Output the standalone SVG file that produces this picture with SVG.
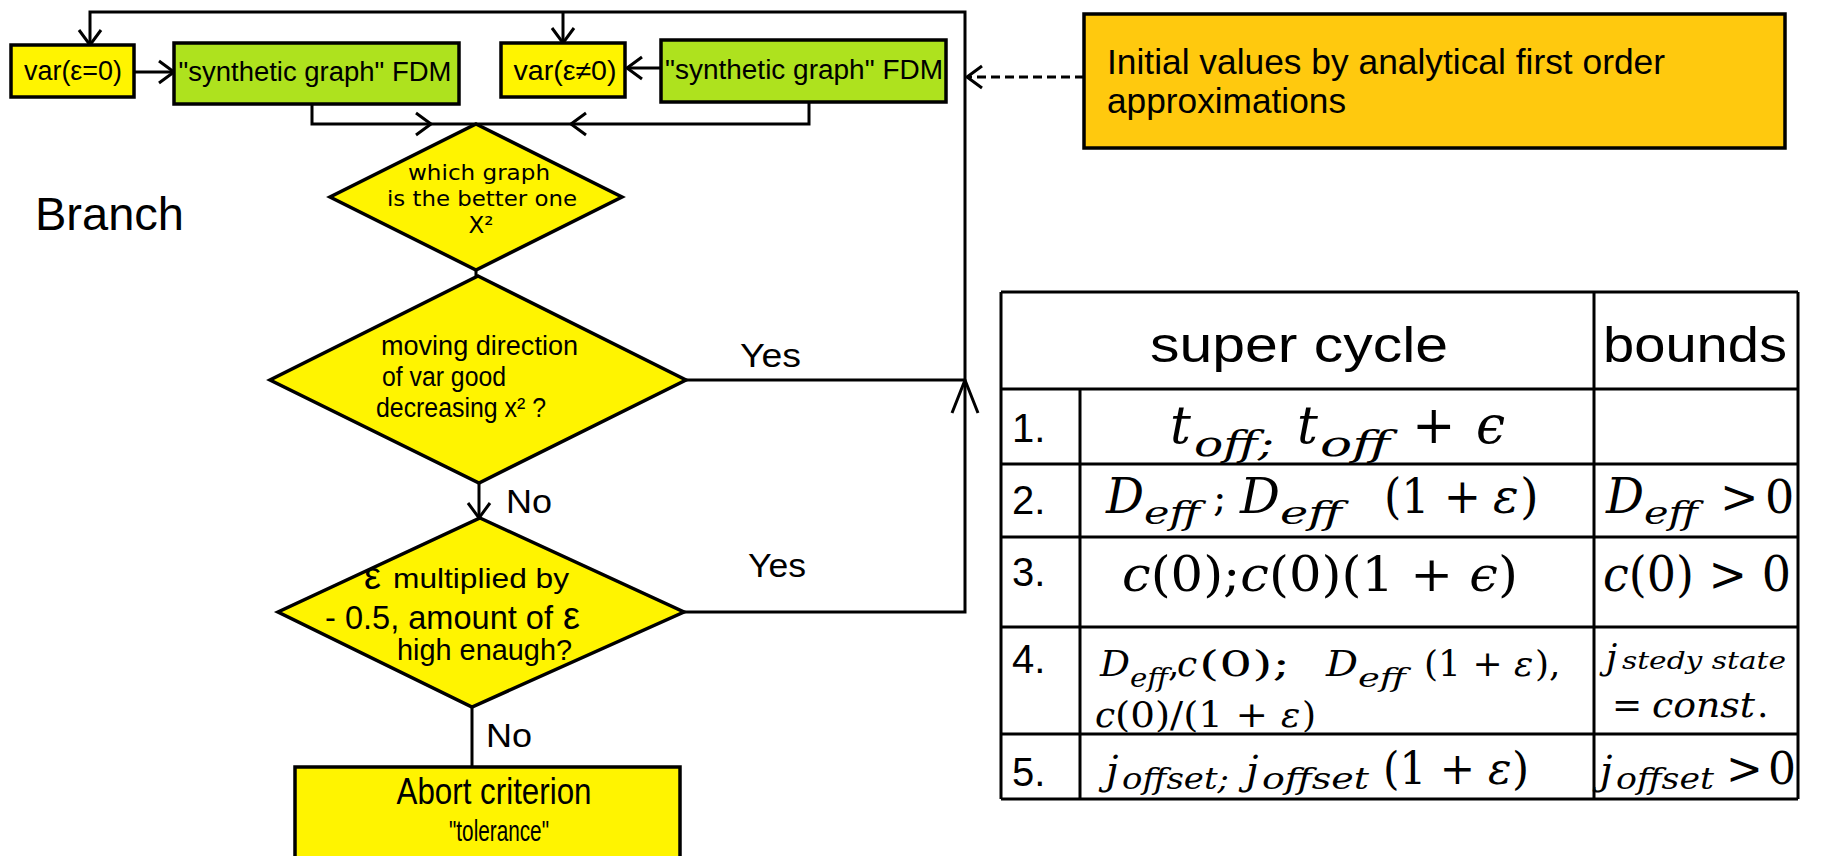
<svg xmlns="http://www.w3.org/2000/svg" width="1831" height="856" viewBox="0 0 1831 856">
<style>
.bx{stroke:#000;stroke-width:3.5}
.yl{fill:#FFF400}
.gr{fill:#AEE21E}
.or{fill:#FFC90E}
.ln{fill:none;stroke:#000;stroke-width:3}
.tl{fill:none;stroke:#000;stroke-width:3}
.t{font-family:"Liberation Sans",Arial,sans-serif;fill:#000}
.dv{font-family:"DejaVu Sans",Verdana,sans-serif;fill:#000}
.m{font-family:"DejaVu Serif","Liberation Serif",serif;fill:#000}
.i{font-style:italic}
.n{font-style:normal}
</style>
<defs>
<marker id="arr" markerUnits="userSpaceOnUse" markerWidth="24" markerHeight="28" refX="16" refY="12" orient="auto" overflow="visible">
<path d="M1,1 L16,12 L1,23" fill="none" stroke="#000" stroke-width="3"/>
</marker>
<marker id="arrL" markerUnits="userSpaceOnUse" markerWidth="40" markerHeight="30" refX="33" refY="13" orient="auto" overflow="visible">
<path d="M0,0 L33,13 L0,26" fill="none" stroke="#000" stroke-width="3"/>
</marker>
</defs>
<rect width="1831" height="856" fill="#fff"/>

<g id="connectors">
<path class="ln" d="M134,72 H174" marker-end="url(#arr)"/>
<path class="ln" d="M661,68 H627" marker-end="url(#arr)"/>
<path class="ln" d="M312,104 V124 H431" marker-end="url(#arr)"/>
<path class="ln" d="M431,124 H571"/>
<path class="ln" d="M809,102 V124 H571" marker-end="url(#arr)"/>
<path class="ln" d="M476,270 V276"/>
<path class="ln" d="M479,483 V518" marker-end="url(#arr)"/>
<path class="ln" d="M686,380 H965"/>
<path class="ln" d="M684,612 H965 V380" marker-end="url(#arrL)"/>
<path class="ln" d="M965,380 V12 H90 V45" marker-end="url(#arr)"/>
<path class="ln" d="M563,12 V43" marker-end="url(#arr)"/>
<path class="ln" d="M472,707 V767"/>
<path class="ln" d="M1084,77 H967" stroke-dasharray="9 5" marker-end="url(#arr)"/>
</g>

<g id="var0">
<rect class="bx yl" x="11" y="45" width="123" height="52"/>
<text class="t" x="73" y="80" font-size="27" text-anchor="middle" textLength="98" lengthAdjust="spacingAndGlyphs">var(ε=0)</text>
</g>
<g id="fdm1">
<rect class="bx gr" x="174" y="43" width="285" height="61"/>
<text class="t" x="315" y="81" font-size="27" text-anchor="middle" textLength="273" lengthAdjust="spacingAndGlyphs">"synthetic graph" FDM</text>
</g>
<g id="varNE">
<rect class="bx yl" x="501" y="43" width="124" height="54"/>
<text class="t" x="565" y="80" font-size="27" text-anchor="middle" textLength="103" lengthAdjust="spacingAndGlyphs">var(ε≠0)</text>
</g>
<g id="fdm2">
<rect class="bx gr" x="661" y="40" width="285" height="62"/>
<text class="t" x="804" y="79" font-size="27" text-anchor="middle" textLength="278" lengthAdjust="spacingAndGlyphs">"synthetic graph" FDM</text>
</g>
<g id="initial">
<rect class="bx or" x="1084" y="14" width="701" height="134"/>
<text class="t" x="1107" y="74" font-size="35" textLength="558" lengthAdjust="spacingAndGlyphs">Initial values by analytical first order</text>
<text class="t" x="1107" y="113" font-size="35" textLength="239" lengthAdjust="spacingAndGlyphs">approximations</text>
</g>
<g id="branch">
<text class="t" x="35" y="230" font-size="46" textLength="149" lengthAdjust="spacingAndGlyphs">Branch</text>
</g>
<g id="which">
<polygon class="bx yl" points="476,124 622,197 476,270 330,197"/>
<text class="dv" x="479" y="180" font-size="22" text-anchor="middle" textLength="142" lengthAdjust="spacingAndGlyphs">which graph</text>
<text class="dv" x="482" y="206" font-size="22" text-anchor="middle" textLength="190" lengthAdjust="spacingAndGlyphs">is the better one</text>
<text class="dv" x="481" y="233" font-size="23" text-anchor="middle">X²</text>
</g>
<g id="moving">
<polygon class="bx yl" points="478,276 686,380 479,483 270,380"/>
<text class="t" x="381" y="355" font-size="27" textLength="197" lengthAdjust="spacingAndGlyphs">moving direction</text>
<text class="t" x="382" y="386" font-size="27" textLength="124" lengthAdjust="spacingAndGlyphs">of var good</text>
<text class="t" x="376" y="417" font-size="27" textLength="170" lengthAdjust="spacingAndGlyphs">decreasing x² ?</text>
</g>
<g id="epsilon">
<polygon class="bx yl" points="480,518 684,612 472,707 278,612"/>
<text class="t" x="364" y="589" font-size="38">ε</text>
<text class="t" x="393" y="588" font-size="28" textLength="176" lengthAdjust="spacingAndGlyphs">multiplied by</text>
<text class="t" x="325" y="629" font-size="34" textLength="228" lengthAdjust="spacingAndGlyphs">- 0.5, amount of</text>
<text class="t" x="563" y="629" font-size="38">ε</text>
<text class="t" x="397" y="660" font-size="29" textLength="175" lengthAdjust="spacingAndGlyphs">high enaugh?</text>
</g>
<g id="labels">
<text class="t" x="740" y="367" font-size="33" textLength="61" lengthAdjust="spacingAndGlyphs">Yes</text>
<text class="t" x="748" y="577" font-size="33" textLength="58" lengthAdjust="spacingAndGlyphs">Yes</text>
<text class="t" x="506" y="513" font-size="33" textLength="46" lengthAdjust="spacingAndGlyphs">No</text>
<text class="t" x="486" y="747" font-size="33" textLength="46" lengthAdjust="spacingAndGlyphs">No</text>
</g>
<g id="abort">
<rect class="bx yl" x="295" y="767" width="385" height="100"/>
<text class="t" x="494" y="804" font-size="37" text-anchor="middle" textLength="195" lengthAdjust="spacingAndGlyphs">Abort criterion</text>
<text class="t" x="499" y="841" font-size="29" text-anchor="middle" textLength="100" lengthAdjust="spacingAndGlyphs">"tolerance"</text>
</g>

<g id="table">
<path class="tl" d="M1001,292 H1798 M1001,389 H1798 M1001,464 H1798 M1001,537 H1798 M1001,627 H1798 M1001,734 H1798 M1001,799 H1798 M1001,292 V799 M1080,389 V799 M1594,292 V799 M1798,292 V799"/>
<text class="t" x="1299" y="362" font-size="50" text-anchor="middle" textLength="298" lengthAdjust="spacingAndGlyphs">super cycle</text>
<text class="t" x="1603" y="362" font-size="50" textLength="184" lengthAdjust="spacingAndGlyphs">bounds</text>
<text class="t" x="1012" y="442" font-size="40">1.</text>
<text class="t" x="1012" y="514" font-size="40">2.</text>
<text class="t" x="1012" y="586" font-size="40">3.</text>
<text class="t" x="1012" y="673" font-size="40">4.</text>
<text class="t" x="1012" y="786" font-size="40">5.</text>
<!-- row 1 -->
<text class="m i" y="443" font-size="52"><tspan x="1170">t</tspan><tspan x="1194" y="456" font-size="36" textLength="80" lengthAdjust="spacingAndGlyphs">off;</tspan><tspan x="1297" y="443">t</tspan><tspan x="1320" y="456" font-size="36" textLength="70" lengthAdjust="spacingAndGlyphs">off</tspan><tspan class="n" x="1412" y="443">+</tspan><tspan x="1476" y="443">ϵ</tspan></text>
<!-- row 2 -->
<text class="m i" y="513" font-size="48"><tspan x="1106" textLength="38" lengthAdjust="spacingAndGlyphs">D</tspan><tspan x="1144" y="524" font-size="32" textLength="56" lengthAdjust="spacingAndGlyphs">eff</tspan><tspan class="n" x="1213" y="511" font-size="40">;</tspan><tspan x="1240" y="513" textLength="40" lengthAdjust="spacingAndGlyphs">D</tspan><tspan x="1280" y="524" font-size="32" textLength="62" lengthAdjust="spacingAndGlyphs">eff</tspan><tspan class="n" x="1384" y="513" textLength="97" lengthAdjust="spacingAndGlyphs">(1 +</tspan><tspan x="1493" y="513">ε</tspan><tspan class="n" x="1520" y="513">)</tspan></text>
<text class="m i" y="513" font-size="48"><tspan x="1606" textLength="38" lengthAdjust="spacingAndGlyphs">D</tspan><tspan x="1644" y="524" font-size="32" textLength="54" lengthAdjust="spacingAndGlyphs">eff</tspan><tspan class="n" x="1720" y="513" font-size="46">&gt;</tspan><tspan class="n" x="1765" y="513" font-size="46">0</tspan></text>
<!-- row 3 -->
<text class="m" x="1122" y="591" font-size="48" textLength="396" lengthAdjust="spacingAndGlyphs"><tspan class="i">c</tspan>(0);<tspan class="i">c</tspan>(0)(1 + <tspan class="i">ϵ</tspan>)</text>
<text class="m" x="1603" y="591" font-size="48" textLength="188" lengthAdjust="spacingAndGlyphs"><tspan class="i">c</tspan>(0) &gt; 0</text>
<!-- row 4 -->
<text class="m i" y="676" font-size="36"><tspan x="1100" textLength="30" lengthAdjust="spacingAndGlyphs">D</tspan><tspan x="1130" y="687" font-size="26" textLength="38" lengthAdjust="spacingAndGlyphs">eff</tspan><tspan class="n" x="1168" y="676">,</tspan><tspan x="1177" y="676">c</tspan><tspan class="n" x="1199" y="676" textLength="91" lengthAdjust="spacingAndGlyphs">(0);</tspan><tspan x="1326" y="676" textLength="32" lengthAdjust="spacingAndGlyphs">D</tspan><tspan x="1358" y="687" font-size="26" textLength="48" lengthAdjust="spacingAndGlyphs">eff</tspan><tspan class="n" x="1424" y="676">(1 +</tspan><tspan x="1514" y="676">ε</tspan><tspan class="n" x="1535" y="676">),</tspan></text>
<text class="m i" y="727" font-size="36"><tspan x="1095">c</tspan><tspan class="n" x="1115" textLength="153" lengthAdjust="spacingAndGlyphs">(0)/(1 +</tspan><tspan x="1281">ε</tspan><tspan class="n" x="1302">)</tspan></text>
<text class="m i" y="669" font-size="36"><tspan x="1606">j</tspan><tspan x="1622" font-size="25" textLength="164" lengthAdjust="spacingAndGlyphs">stedy state</tspan></text>
<text class="m" y="717" font-size="36"><tspan x="1612">=</tspan><tspan class="i" x="1652" textLength="103" lengthAdjust="spacingAndGlyphs">const</tspan><tspan x="1757">.</tspan></text>
<!-- row 5 -->
<text class="m i" y="784" font-size="40"><tspan x="1106">j</tspan><tspan x="1122" y="789" font-size="30" textLength="107" lengthAdjust="spacingAndGlyphs">offset;</tspan><tspan x="1246" y="784">j</tspan><tspan x="1262" y="789" font-size="30" textLength="107" lengthAdjust="spacingAndGlyphs">offset</tspan><tspan class="n" x="1383" y="784" font-size="44" textLength="92" lengthAdjust="spacingAndGlyphs">(1 +</tspan><tspan x="1488" y="784" font-size="44">ε</tspan><tspan class="n" x="1512" y="784" font-size="44">)</tspan></text>
<text class="m i" y="784" font-size="40"><tspan x="1600">j</tspan><tspan x="1616" y="789" font-size="30" textLength="98" lengthAdjust="spacingAndGlyphs">offset</tspan><tspan class="n" x="1726" y="784" font-size="44">&gt;</tspan><tspan class="n" x="1768" y="784" font-size="44">0</tspan></text>
</g>
</svg>
